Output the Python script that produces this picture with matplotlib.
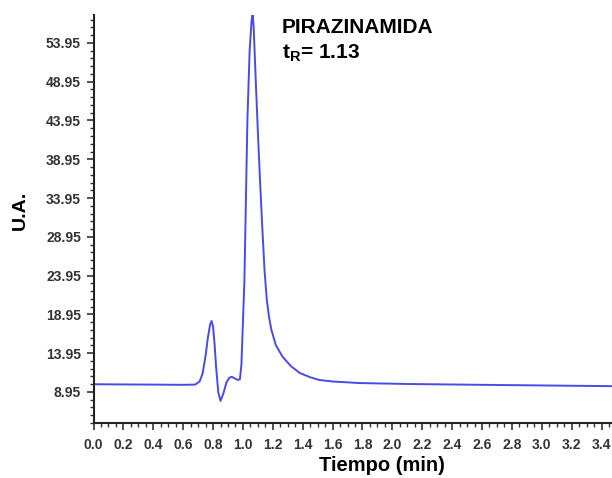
import numpy as np
import matplotlib.pyplot as plt
from matplotlib.ticker import FixedLocator, MultipleLocator, FormatStrFormatter

# chromatogram (time in min, signal in U.A.)
tiempo = [0.00, 0.20, 0.40, 0.60, 0.68, 0.71, 0.73, 0.75, 0.765, 0.78,
          0.79, 0.80, 0.81, 0.82, 0.835, 0.85, 0.87, 0.89, 0.91, 0.925,
          0.945, 0.965, 0.98, 0.99, 1.01, 1.03, 1.045, 1.058, 1.065, 1.072,
          1.085, 1.10, 1.115, 1.13, 1.145, 1.16, 1.175, 1.19, 1.22, 1.265,
          1.32, 1.38, 1.45, 1.51, 1.60, 1.78, 2.10, 2.70, 3.47]
senal = [9.95, 9.92, 9.90, 9.87, 9.9, 10.3, 11.3, 13.6, 15.9, 17.6,
         18.1, 17.4, 15.2, 12.3, 8.9, 7.8, 8.8, 10.2, 10.8, 10.9,
         10.7, 10.5, 10.6, 12.5, 23.3, 44.0, 53.0, 56.8, 57.6, 56.0,
         49.5, 42.5, 36.0, 30.0, 24.5, 20.8, 18.6, 17.0, 15.0, 13.5,
         12.3, 11.4, 10.85, 10.5, 10.3, 10.1, 9.98, 9.85, 9.7]

y_ticks = [8.95, 13.95, 18.95, 23.95, 28.95, 33.95, 38.95, 43.95, 48.95, 53.95]

plt.rcParams['font.family'] = 'Liberation Sans'
plt.rcParams['font.weight'] = 'bold'
plt.rcParams['mathtext.fontset'] = 'custom'
plt.rcParams['mathtext.bf'] = 'Liberation Sans:bold'
plt.rcParams['mathtext.rm'] = 'Liberation Sans:bold'

fig = plt.figure(figsize=(6.12, 4.78), dpi=100)
ax = fig.add_axes([93.5 / 612, 1 - 423 / 478, 1 - 93.5 / 612, (423 - 15) / 478])

ax.plot(tiempo, senal, color='#4a4ae6', lw=1.4)

ax.set_xlim(0, 3.47)
ax.set_ylim(4.95, 57.55)

ax.spines['top'].set_visible(False)
ax.spines['right'].set_visible(False)
for s in ['left', 'bottom']:
    ax.spines[s].set_linewidth(1.5)
    ax.spines[s].set_color('#222222')

ax.yaxis.set_major_locator(FixedLocator(y_ticks))
ax.yaxis.set_minor_locator(FixedLocator(np.arange(4.95, 57.6, 1.0)))
ax.yaxis.set_major_formatter(FormatStrFormatter('%.2f'))
ax.xaxis.set_major_locator(MultipleLocator(0.2))
ax.xaxis.set_minor_locator(MultipleLocator(0.05))
ax.xaxis.set_major_formatter(FormatStrFormatter('%.1f'))

ax.tick_params(which='major', length=5, width=1.2, color='#333333',
               labelsize=10, pad=4)
ax.tick_params(axis='x', which='major', pad=6)
ax.tick_params(which='minor', length=3, width=1.0, color='#333333')
for lab in ax.get_xticklabels() + ax.get_yticklabels():
    lab.set_fontweight('bold')
    lab.set_color('#333333')

ax.set_ylabel('U.A.', fontsize=14, fontweight='bold')
ax.yaxis.set_label_coords(-0.125, 0.52)
ax.set_xlabel('Tiempo (min)', fontsize=14.5, fontweight='bold')
ax.xaxis.set_label_coords(0.556, -0.082)

ax.text(1.26, 55.2, 'PIRAZINAMIDA', fontsize=15, fontweight='bold')
ax.text(1.26, 52.0, r'$\mathbf{t}_{\mathbf{R}}$= 1.13', fontsize=15, fontweight='bold')

fig.savefig('out.png', dpi=100)
